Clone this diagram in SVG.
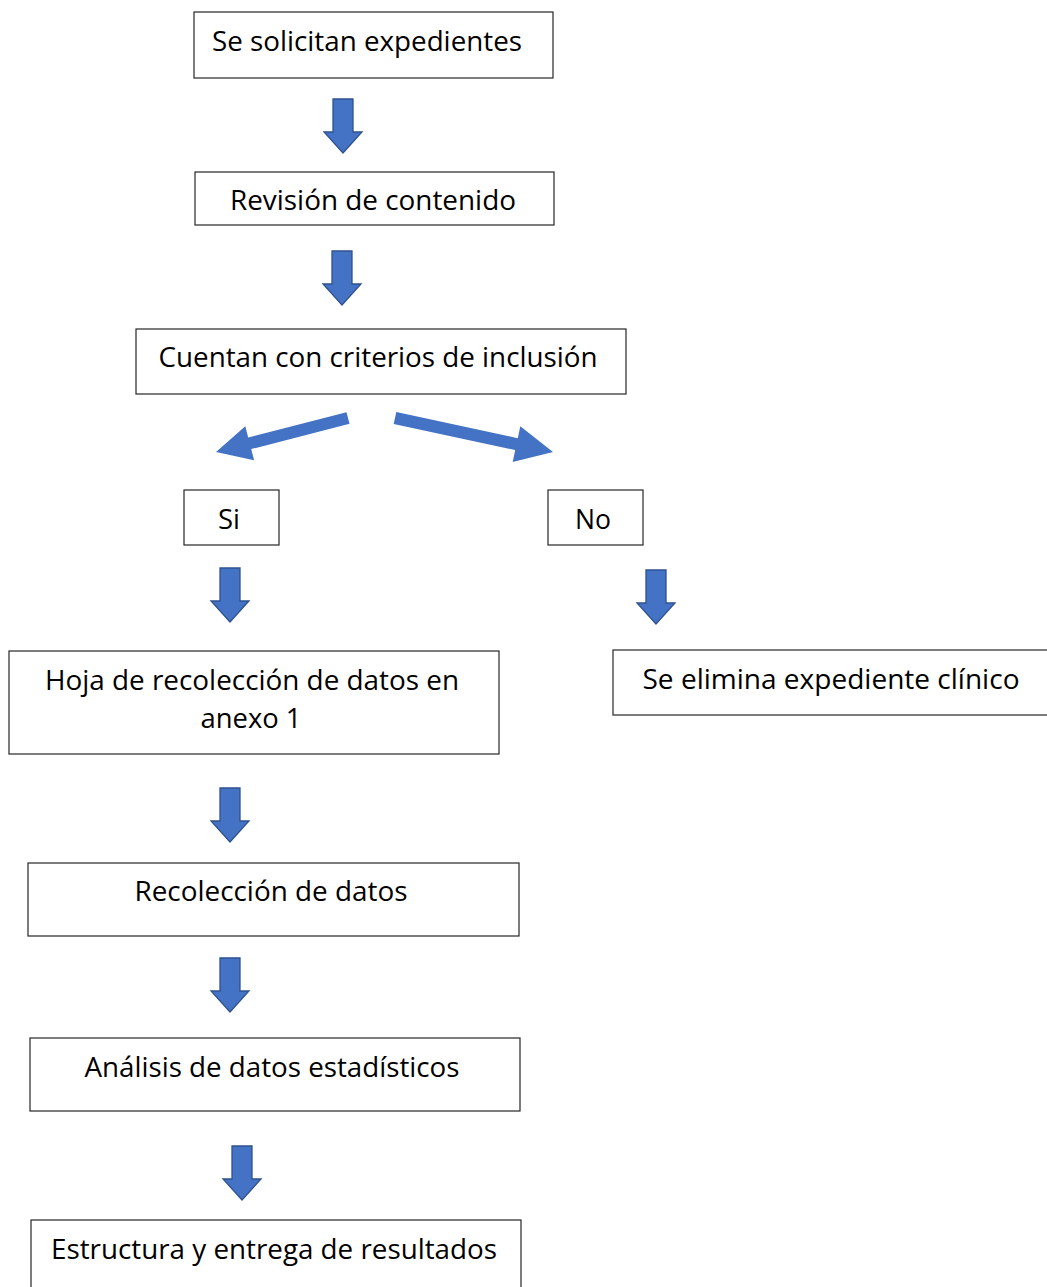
<svg xmlns="http://www.w3.org/2000/svg" xmlns:xlink="http://www.w3.org/1999/xlink" width="1047" height="1287" viewBox="0 0 1047 1287">
<style>
.box{fill:#fff;stroke:#262626;stroke-width:1.2}
.t{font-family:"Open Sans","Noto Sans",sans-serif;font-size:27px;fill:#000;text-anchor:middle}
.arr{fill:#4472C4;stroke:#2F528F;stroke-width:1.3}
.dia{fill:#4472C4}
</style>
<defs>
<path id="down" d="M-10,0 h20 v33 h9 l-19,21 l-19,-21 h9 z"/>
</defs>
<rect width="1047" height="1287" fill="#fff"/>
<g id="n1"><rect class="box" x="194" y="12" width="359" height="66"/><text class="t" x="367" y="51" textLength="310" lengthAdjust="spacingAndGlyphs">Se solicitan expedientes</text></g>
<g id="n2"><rect class="box" x="195" y="172" width="359" height="53"/><text class="t" x="373" y="210" textLength="286" lengthAdjust="spacingAndGlyphs">Revisión de contenido</text></g>
<g id="n3"><rect class="box" x="136" y="329" width="490" height="65"/><text class="t" x="378" y="367" textLength="439" lengthAdjust="spacingAndGlyphs">Cuentan con criterios de inclusión</text></g>
<g id="n4"><rect class="box" x="184" y="490" width="95" height="55"/><text class="t" x="229" y="529" textLength="22" lengthAdjust="spacingAndGlyphs">Si</text></g>
<g id="n5"><rect class="box" x="548" y="490" width="95" height="55"/><text class="t" x="593" y="529" textLength="36" lengthAdjust="spacingAndGlyphs">No</text></g>
<g id="n6"><rect class="box" x="9" y="651" width="490" height="103"/><text class="t" x="252" y="690" textLength="414" lengthAdjust="spacingAndGlyphs">Hoja de recolección de datos en</text><text class="t" x="251" y="728" textLength="101" lengthAdjust="spacingAndGlyphs">anexo 1</text></g>
<g id="n7"><rect class="box" x="613" y="650" width="450" height="65"/><text class="t" x="831" y="689" textLength="377" lengthAdjust="spacingAndGlyphs">Se elimina expediente clínico</text></g>
<g id="n8"><rect class="box" x="28" y="863" width="491" height="73"/><text class="t" x="271" y="901" textLength="273" lengthAdjust="spacingAndGlyphs">Recolección de datos</text></g>
<g id="n9"><rect class="box" x="30" y="1038" width="490" height="73"/><text class="t" x="272" y="1077" textLength="375" lengthAdjust="spacingAndGlyphs">Análisis de datos estadísticos</text></g>
<g id="n10"><rect class="box" x="31" y="1220" width="490" height="80"/><text class="t" x="274" y="1259" textLength="446" lengthAdjust="spacingAndGlyphs">Estructura y entrega de resultados</text></g>
<g id="connectors">
<use href="#down" xlink:href="#down" class="arr" transform="translate(343,99)"/>
<use href="#down" xlink:href="#down" class="arr" transform="translate(342,251)"/>
<use href="#down" xlink:href="#down" class="arr" transform="translate(230,568)"/>
<use href="#down" xlink:href="#down" class="arr" transform="translate(656,570)"/>
<use href="#down" xlink:href="#down" class="arr" transform="translate(230,788)"/>
<use href="#down" xlink:href="#down" class="arr" transform="translate(230,958)"/>
<use href="#down" xlink:href="#down" class="arr" transform="translate(242,1146)"/>
<polygon class="dia" points="346.5,412.2 248.2,437.5 245.3,426.3 216,452 254.1,460.3 251.2,449.1 349.5,423.8"/>
<polygon class="dia" points="396.3,412.1 517.8,438.2 520.3,426.2 553,452 512.7,462 515.2,450 393.7,423.9"/>
</g>
</svg>
